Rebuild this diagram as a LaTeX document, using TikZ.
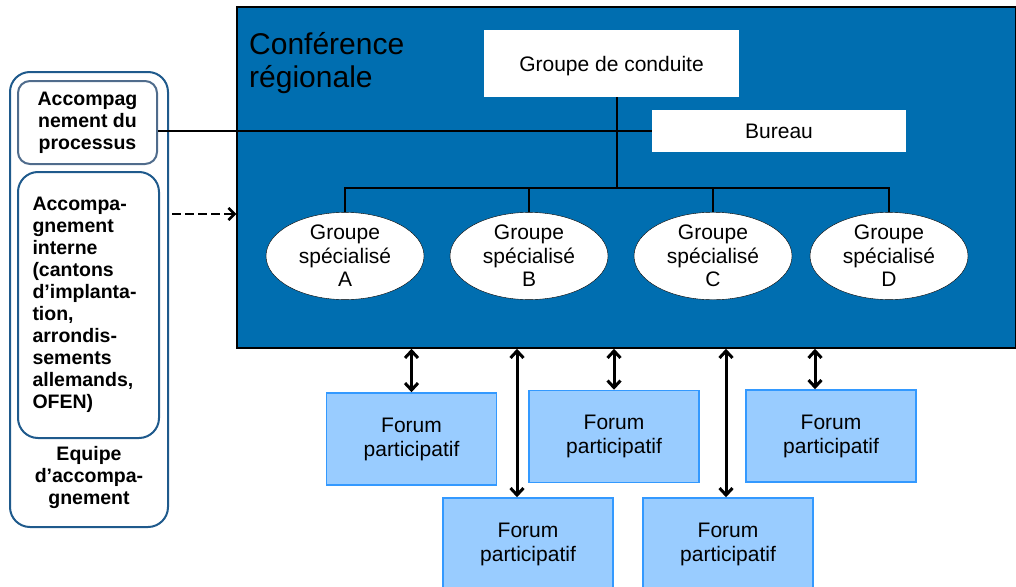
\documentclass[tikz,border=0pt]{standalone}
\usepackage{fontspec}
\setmainfont{Liberation Sans}
\usepackage{tikz}
\usetikzlibrary{shapes,arrows.meta,positioning}
\usepackage{xcolor}
\definecolor{confblue}{RGB}{0,110,176}
\definecolor{forumfill}{RGB}{153,204,255}
\definecolor{forumline}{RGB}{51,153,255}
\definecolor{panelline}{RGB}{31,90,140}
\definecolor{boxline}{RGB}{80,108,140}

\begin{document}
\begin{tikzpicture}[x=1pt,y=-1pt]
      \tikzstyle{conference} = [rectangle, draw=black, line width=1.5pt, fill=confblue, minimum width=779pt, minimum height=341pt, inner sep=0pt]
      \tikzstyle{whitebox} = [rectangle, fill=white, inner sep=0pt, font=\fontsize{21}{24}\selectfont]
      \tikzstyle{groupe} = [ellipse, draw=black, fill=white, minimum width=158pt, minimum height=83pt, inner sep=0pt, align=center, font=\fontsize{21}{23.5}\selectfont]
      \tikzstyle{forum} = [rectangle, draw=forumline, line width=1.5pt, fill=forumfill, minimum width=170pt, minimum height=92pt, inner sep=0pt, align=center, font=\fontsize{21}{24}\selectfont]
      \tikzstyle{panel} = [rectangle, rounded corners=20pt, draw=panelline, line width=2pt, inner sep=0pt]
      \tikzstyle{boldtext} = [align=center, inner sep=0pt, font=\fontsize{19.5}{22}\selectfont\bfseries]
      \tikzstyle{orgline} = [line width=2pt]
      \tikzstyle{echange} = [{Straight Barb[length=7pt,width=13pt]}-{Straight Barb[length=7pt,width=13pt]}, line width=3pt]
      \tikzstyle{pointille} = [-{Straight Barb[length=6pt,width=12pt]}, line width=2.5pt, dash pattern=on 9pt off 4pt]

      \useasboundingbox (0,0) rectangle (1016,586);

      % conference regionale
      \node[conference] (conf) at (626.5,177.5) {};
      \node[anchor=north west, align=left, inner sep=0pt, font=\fontsize{30}{33}\selectfont] (titre) at (249,32) {Conférence\\régionale};
      \node[whitebox, minimum width=255pt, minimum height=67pt] (conduite) at (611.5,63.5) {\raisebox{-3pt}[\height][\depth]{Groupe de conduite}};
      \node[whitebox, minimum width=254pt, minimum height=42pt] (bureau) at (779,131) {Bureau};
      \coordinate (jonction) at (617,188);

      \node[groupe] (gA) at (345,256) {Groupe\\spécialisé\\A};
      \node[groupe] (gB) at (529,256) {Groupe\\spécialisé\\B};
      \node[groupe] (gC) at (713,256) {Groupe\\spécialisé\\C};
      \node[groupe] (gD) at (889,256) {Groupe\\spécialisé\\D};

      \draw[orgline] (conduite.south -| jonction) -- (jonction);
      \draw[orgline] (gA.north) -- (gA.north |- jonction) -- (gD.north |- jonction) -- (gD.north);
      \foreach \g in {gB,gC}
        \draw[orgline] (\g.north) -- (\g.north |- jonction);

      % equipe d'accompagnement
      \node[panel, minimum width=158pt, minimum height=455pt] (equipe) at (89,299.5) {};
      \node[panel, draw=boxline, rounded corners=12pt, minimum width=139pt, minimum height=83pt] (acc1) at (87.5,122.5) {};
      \node[boldtext] (acc1txt) at (acc1) {Accompag\\nement du\\processus};
      \node[panel, minimum width=141pt, minimum height=266pt] (acc2) at (88.5,305) {};
      \node[boldtext, align=left, text width=112pt] (acc2txt) at (acc2) {Accompa-\\gnement\\interne\\(cantons\\d’implanta-\\tion,\\arrondis-\\sements\\allemands,\\OFEN)};
      \node[boldtext] (equipetxt) at (89,477) {Equipe\\d’accompa-\\gnement};

      \draw[orgline] (acc1.east |- bureau.west) -- (bureau.west);
      \coordinate (tiret) at (172,214);
      \draw[pointille] (tiret) -- (tiret -| conf.west);

      % forums participatifs
      \node[forum] (f1) at (411.5,439) {Forum\\participatif};
      \node[forum] (f2) at (614,436.5) {Forum\\participatif};
      \node[forum] (f3) at (831,436) {Forum\\participatif};
      \node[forum] (f4) at (528,544) {Forum\\participatif};
      \node[forum] (f5) at (728,544) {Forum\\participatif};

      \draw[echange] (f1.north) -- (f1.north |- conf.south);
      \draw[echange] (f2.north) -- (f2.north |- conf.south);
      \draw[echange] ([xshift=-16pt]f3.north) -- ([xshift=-16pt]f3.north |- conf.south);
      \draw[echange] ([xshift=-11pt]f4.north) -- ([xshift=-11pt]f4.north |- conf.south);
      \draw[echange] ([xshift=-2pt]f5.north) -- ([xshift=-2pt]f5.north |- conf.south);
    \end{tikzpicture}
\end{document}
